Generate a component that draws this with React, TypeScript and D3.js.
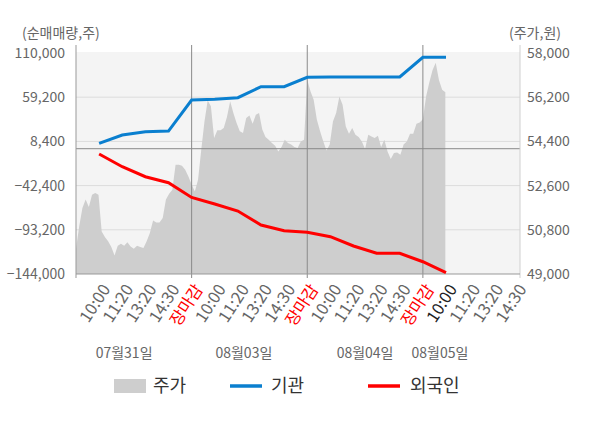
import * as d3 from "d3";

// 날짜 / x축 라벨
const dayLabels = ["07월31일", "08월03일", "08월04일", "08월05일"];
const dayLabelAt = [2.08, 7.26, 12.5, 15.74];
const slotLabels = ["10:00", "11:20", "13:20", "14:30", "장마감"];
const tickLabels = [
  ...slotLabels, ...slotLabels, ...slotLabels,
  "10:00", "11:20", "13:20", "14:30",
];

// 순매매량 (주)
const instValues = [
  6200, 15700, 19500, 20300, 56000,
  56800, 58600, 71300, 71300, 82000,
  82400, 82400, 82400, 82400, 105000,
  105000,
];
const foreignValues = [
  -6100, -20700, -32200, -39100, -56000,
  -63500, -71600, -87700, -94200, -96100,
  -101100, -111800, -120200, -120200, -129900,
  -142500,
];

// 주가 (원), 하루 36개 샘플
const priceDay1 = [
  50020, 50940, 51690, 52030, 51730, 52230, 52300, 52230, 50730, 50510, 50330, 50100,
  49750, 50150, 50230, 50150, 50290, 50120, 50030, 50150, 50100, 50060, 50330, 50670,
  51180, 51100, 51100, 51280, 52030, 52270, 52430, 53450, 53450, 53410, 53250, 52970,
];
const priceDay2 = [
  52640, 52360, 52840, 54060, 55210, 56070, 55830, 54540, 54850, 54850, 54950, 55390,
  56030, 55560, 55150, 54810, 54740, 55350, 55450, 55120, 55490, 55560, 54880, 54580,
  54470, 54330, 54220, 53990, 54170, 54470, 54330, 54270, 54170, 54130, 54400, 54470,
];
const priceDay3 = [
  56910, 56440, 56100, 55280, 54810, 54400, 54030, 54270, 55210, 55560, 56230, 55890,
  55010, 54710, 54950, 54670, 54580, 54400, 54090, 54670, 54600, 54540, 54630, 54170,
  54470, 53990, 53680, 53930, 53950, 53860, 54270, 54400, 54710, 54710, 55120, 55170,
];
const priceDay4 = [55300, 56230, 56800, 57300, 57600, 56900, 56500, 56400];
const priceDays = [priceDay1, priceDay2, priceDay3, priceDay4];

const leftTicks = [110000, 59200, 8400, -42400, -93200, -144000];
const rightTicks = [58000, 56200, 54400, 52600, 50800, 49000];

const FONT = "'Noto Sans CJK KR', 'Noto Sans', sans-serif";
const BLUE = "#0a7fcf";
const RED = "#ff0000";

export default function App() {
  const L = 76, R = 520, T = 52, B = 274;
  const x = d3.scaleLinear().domain([0, 19.2]).range([L, R]);
  const yL = d3.scaleLinear().domain([-144000, 110000]).range([B, 53]);
  const yR = d3.scaleLinear().domain([49000, 58000]).range([B, 53]);

  const pricePts: [number, number][] = [];
  priceDays.forEach((arr, d) =>
    arr.forEach((v, i) => pricePts.push([d * 5 + (5 * i) / 36, v]))
  );
  const area = d3
    .area<[number, number]>()
    .x((p) => x(p[0]))
    .y0(B)
    .y1((p) => yR(p[1]));

  const line = d3
    .line<number>()
    .x((_, i) => x(i + 1))
    .y((v) => yL(v));

  const fmt = d3.format(",");

  return (
    <svg
      width={600}
      height={428}
      style={{ position: "absolute", left: 0, top: 0, background: "#fff" }}
      fontFamily={FONT}
    >
      <rect x={L} y={T} width={R - L} height={B - T} fill="#f4f4f4" />
      {leftTicks.slice(1, -1).map((t) => (
        <line key={t} x1={L} x2={R} y1={yL(t)} y2={yL(t)} stroke="#dcdcdc" />
      ))}

      <path d={area(pricePts) ?? ""} fill="#cecece" />

      <line x1={L} x2={R} y1={yL(0)} y2={yL(0)} stroke="#888" />
      {[5, 10, 15].map((u) => (
        <line key={u} x1={x(u)} x2={x(u)} y1={45} y2={278} stroke="#8a8a8a" />
      ))}
      <line x1={L} x2={L} y1={45} y2={278} stroke="#999" />
      <line x1={R} x2={R} y1={45} y2={278} stroke="#d0d0d0" />
      <line x1={L} x2={R} y1={B} y2={B} stroke="#999" />

      <path d={line(instValues) ?? ""} fill="none" stroke={BLUE} strokeWidth={3} />
      <path d={line(foreignValues) ?? ""} fill="none" stroke={RED} strokeWidth={3} />

      {leftTicks.map((t) => (
        <text key={t} x={65} y={yL(t)} dy="0.35em" textAnchor="end" fontSize={14} fill="#666">
          {fmt(t)}
        </text>
      ))}
      {rightTicks.map((t) => (
        <text key={t} x={527} y={yR(t)} dy="0.35em" fontSize={14} fill="#666">
          {fmt(t)}
        </text>
      ))}
      <text x={22} y={33} dy="0.35em" fontSize={14} fill="#666">(순매매량,주)</text>
      <text x={509} y={33} dy="0.35em" fontSize={14} fill="#666">(주가,원)</text>

      {tickLabels.map((lab, i) => {
        const color = lab === "장마감" ? RED : i === 15 ? "#222" : "#666";
        return (
          <text
            key={i}
            transform={`translate(${x(i + 1) + 7},${286}) rotate(-57)`}
            textAnchor="end"
            dy="0.35em"
            fontSize={16.5}
            fill={color}
          >
            {lab}
          </text>
        );
      })}
      {dayLabels.map((lab, i) => (
        <text key={lab} x={x(dayLabelAt[i])} y={353} dy="0.35em" textAnchor="middle" fontSize={14} fill="#666">
          {lab}
        </text>
      ))}

      <g fontSize={18} fill="#333">
        <rect x={114} y={379} width={32} height={14} fill="#cecece" />
        <text x={153} y={386} dy="0.35em">주가</text>
        <line x1={230} x2={262} y1={386} y2={386} stroke={BLUE} strokeWidth={3.5} />
        <text x={271} y={386} dy="0.35em">기관</text>
        <line x1={368} x2={400} y1={386} y2={386} stroke={RED} strokeWidth={3.5} />
        <text x={410} y={386} dy="0.35em">외국인</text>
      </g>
    </svg>
  );
}
